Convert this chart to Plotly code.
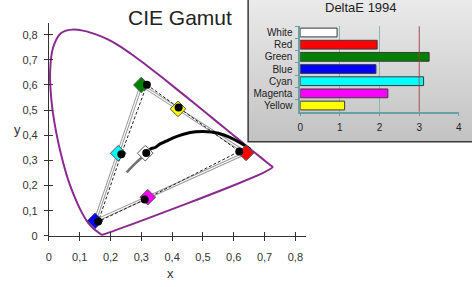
import plotly.graph_objects as go

# ---------------- data ----------------
# spectral locus (CIE 1931 chromaticity, x / y)
locus_x = [0.1741, 0.1733, 0.1714, 0.1689, 0.1644, 0.1566, 0.1440, 0.1355, 0.1241, 0.1096,
           0.0913, 0.0687, 0.0454, 0.0235, 0.0082, 0.0039, 0.0139, 0.0389, 0.0743, 0.1142,
           0.1547, 0.1929, 0.2296, 0.2658, 0.3016, 0.3373, 0.3731, 0.4087, 0.4441, 0.4788,
           0.5125, 0.5448, 0.5752, 0.6029, 0.6270, 0.6658, 0.6915, 0.7079, 0.7190, 0.7260]
locus_y = [0.0050, 0.0048, 0.0051, 0.0069, 0.0109, 0.0177, 0.0297, 0.0399, 0.0578, 0.0868,
           0.1327, 0.2007, 0.2950, 0.4127, 0.5384, 0.6548, 0.7502, 0.8060, 0.8200, 0.8150,
           0.8000, 0.7800, 0.7543, 0.7243, 0.6923, 0.6589, 0.6245, 0.5896, 0.5547, 0.5202,
           0.4866, 0.4544, 0.4242, 0.3965, 0.3725, 0.3340, 0.3083, 0.2920, 0.2809, 0.2740]

patch_names = ["White", "Red", "Green", "Blue", "Cyan", "Magenta", "Yellow"]
patch_colors = ["#ffffff", "#ff0000", "#008000", "#0000ff", "#00ffff", "#ff00ff", "#ffff00"]
target_x = [0.3127, 0.640, 0.300, 0.150, 0.225, 0.321, 0.419]
target_y = [0.3290, 0.330, 0.600, 0.060, 0.329, 0.154, 0.505]
measured_x = [0.316, 0.618, 0.318, 0.160, 0.235, 0.311, 0.421]
measured_y = [0.330, 0.336, 0.601, 0.057, 0.325, 0.145, 0.511]

# gamut outline order: Green -> Yellow -> Red -> Magenta -> Blue -> Cyan -> Green
outline_order = ["Green", "Yellow", "Red", "Magenta", "Blue", "Cyan", "Green"]

# Planckian locus (x, y) from ~25000 K down to 1000 K
planck_hot_x = [0.2526, 0.2565, 0.2637, 0.2807, 0.2951, 0.3135]
planck_hot_y = [0.2523, 0.2577, 0.2673, 0.2883, 0.3050, 0.3236]
planck_warm_x = [0.3135, 0.3324, 0.3451, 0.3611, 0.3805, 0.4053, 0.4369, 0.4770, 0.5267,
                 0.5496, 0.5857, 0.6251, 0.6528]
planck_warm_y = [0.3236, 0.3474, 0.3516, 0.3658, 0.3768, 0.3907, 0.4041, 0.4137, 0.4133,
                 0.4081, 0.3931, 0.3674, 0.3444]

delta_e = [0.93, 1.94, 3.25, 1.91, 3.11, 2.21, 1.12]
delta_threshold = 3

x_ticks = [0, 0.1, 0.2, 0.3, 0.4, 0.5, 0.6, 0.7, 0.8]
x_ticktext = ["0", "0,1", "0,2", "0,3", "0,4", "0,5", "0,6", "0,7", "0,8"]
y_ticks = [0, 0.1, 0.2, 0.3, 0.4, 0.5, 0.6, 0.7, 0.8]
y_ticktext = ["0", "0,1", "0,2", "0,3", "0,4", "0,5", "0,6", "0,7", "0,8"]
bar_ticks = [0, 1, 2, 3, 4]

# ---------------- figure ----------------
W, H = 475, 287
FONT = "Liberation Sans, Arial, sans-serif"
TEAL = "#6a9fa3"

def px_x(p):
    return p / W

def px_y(p):
    return 1 - p / H

fig = go.Figure()

# spectral locus (closed with line of purples)
fig.add_trace(go.Scatter(x=locus_x + [locus_x[0]], y=locus_y + [locus_y[0]], mode="lines",
                         line=dict(color="#8a2a8e", width=2), line_shape="spline",
                         hoverinfo="skip", showlegend=False))

idx = {n: i for i, n in enumerate(patch_names)}
ox_t = [target_x[idx[n]] for n in outline_order]
oy_t = [target_y[idx[n]] for n in outline_order]
ox_m = [measured_x[idx[n]] for n in outline_order]
oy_m = [measured_y[idx[n]] for n in outline_order]

# target outline: double grey line
fig.add_trace(go.Scatter(x=ox_t, y=oy_t, mode="lines", line=dict(color="#9a9a9a", width=3.2),
                         hoverinfo="skip", showlegend=False))
fig.add_trace(go.Scatter(x=ox_t, y=oy_t, mode="lines", line=dict(color="#ffffff", width=1.2),
                         hoverinfo="skip", showlegend=False))
# measured outline: black dashed
fig.add_trace(go.Scatter(x=ox_m, y=oy_m, mode="lines",
                         line=dict(color="#222222", width=1, dash="3px,2px"),
                         hoverinfo="skip", showlegend=False))

# Planckian locus
fig.add_trace(go.Scatter(x=planck_hot_x, y=planck_hot_y, mode="lines",
                         line=dict(color="#707070", width=2.5), line_shape="spline",
                         hoverinfo="skip", showlegend=False))
fig.add_trace(go.Scatter(x=planck_warm_x, y=planck_warm_y, mode="lines",
                         line=dict(color="#000000", width=3), line_shape="spline",
                         hoverinfo="skip", showlegend=False))

# target diamonds
fig.add_trace(go.Scatter(x=target_x, y=target_y, mode="markers",
                         marker=dict(symbol="diamond", size=12, color=patch_colors,
                                     line=dict(color="#555555", width=1)),
                         hoverinfo="skip", showlegend=False))
# measured dots
fig.add_trace(go.Scatter(x=measured_x, y=measured_y, mode="markers",
                         marker=dict(symbol="circle", size=8, color="#000000"),
                         hoverinfo="skip", showlegend=False))

# overlay axes for crossing ticks
fig.add_trace(go.Scatter(x=[None], y=[None], xaxis="x4", yaxis="y4", showlegend=False,
                         hoverinfo="skip"))

# inset panel background (gradient box)
fig.add_trace(go.Scatter(x=[0, 1, 1, 0, 0], y=[0, 0, 1.02, 1.02, 0], xaxis="x2", yaxis="y2",
                         mode="lines", fill="toself", line=dict(width=0, color="rgba(0,0,0,0)"),
                         fillgradient=dict(type="vertical",
                                           colorscale=[[0, "#c2c2c2"], [1, "#ebebeb"]]),
                         hoverinfo="skip", showlegend=False))
fig.add_trace(go.Scatter(x=[0, 0, 1.05], y=[1.05, 0, 0], xaxis="x2", yaxis="y2",
                         mode="lines", line=dict(width=1.5, color="#3a3a3a"),
                         hoverinfo="skip", showlegend=False))

# DeltaE bars
fig.add_trace(go.Bar(y=patch_names, x=delta_e, orientation="h", xaxis="x3", yaxis="y3",
                     marker=dict(color=patch_colors, line=dict(color="#3a3a3a", width=1)),
                     width=0.72, hoverinfo="skip", showlegend=False))

main_dom_x = [px_x(46.5), px_x(46.5 + 0.835 * 312)]
main_dom_y = [px_y(241), px_y(241 - 0.845 * 257)]
axis_font = dict(family=FONT, size=11, color="#333333")

fig.update_layout(
    width=W, height=H,
    margin=dict(l=0, r=0, t=0, b=0),
    paper_bgcolor="#ffffff", plot_bgcolor="rgba(0,0,0,0)",
    showlegend=False,
    xaxis=dict(domain=main_dom_x, range=[0, 0.835], anchor="y",
               tickmode="array", tickvals=x_ticks, ticktext=x_ticktext,
               ticks="outside", ticklen=4, tickcolor="#333333", tickwidth=1,
               ticklabelstandoff=7,
               showline=True, linecolor="#333333", linewidth=1,
               showgrid=False, zeroline=False, tickfont=axis_font),
    yaxis=dict(domain=main_dom_y, range=[0, 0.845], anchor="x",
               tickmode="array", tickvals=y_ticks, ticktext=y_ticktext,
               ticks="outside", ticklen=4, tickcolor="#333333", tickwidth=1,
               ticklabelstandoff=4,
               showline=True, linecolor="#333333", linewidth=1,
               showgrid=False, zeroline=False, tickfont=axis_font),
    xaxis4=dict(overlaying="x", range=[0, 0.835], anchor="y4",
                tickmode="array", tickvals=x_ticks, ticks="inside", ticklen=4,
                tickcolor="#333333", showticklabels=False, showline=False,
                showgrid=False, zeroline=False),
    yaxis4=dict(overlaying="y", range=[0, 0.845], anchor="x4",
                tickmode="array", tickvals=y_ticks, ticks="inside", ticklen=4,
                tickcolor="#333333", showticklabels=False, showline=False,
                showgrid=False, zeroline=False),
    xaxis2=dict(domain=[px_x(246), 1], range=[-0.01, 1], visible=False, fixedrange=True,
                anchor="y2"),
    yaxis2=dict(domain=[px_y(147), 1], range=[-0.015, 1], visible=False, fixedrange=True,
                anchor="x2"),
    xaxis3=dict(domain=[px_x(301), px_x(461.7)], range=[0, 4], anchor="y3",
                tickmode="array", tickvals=bar_ticks,
                ticks="outside", ticklen=3, tickcolor=TEAL, ticklabelstandoff=3,
                showline=True, linecolor=TEAL, linewidth=1.5,
                showgrid=True, gridcolor="#8cb8ba", gridwidth=1, zeroline=False,
                tickfont=dict(family=FONT, size=10, color="#222222")),
    yaxis3=dict(domain=[px_y(114), px_y(27)], anchor="x3",
                categoryorder="array", categoryarray=patch_names, autorange="reversed",
                ticks="outside", ticklen=3, tickcolor=TEAL, tickson="boundaries",
                ticklabelstandoff=4,
                showline=True, linecolor=TEAL, linewidth=1.5, showgrid=False,
                tickfont=dict(family=FONT, size=10, color="#222222")),
    shapes=[
        dict(type="rect", xref="x3 domain", yref="y3 domain", x0=0, x1=1, y0=0, y1=1,
             fillcolor="#ffffff", line=dict(width=0), layer="below"),
        dict(type="line", xref="x3", yref="y3 domain", x0=delta_threshold, x1=delta_threshold,
             y0=0, y1=1, line=dict(color="#cc3333", width=1), opacity=0.75, layer="above"),
    ],
    annotations=[
        dict(text="CIE Gamut", x=px_x(179), y=px_y(18), xref="paper", yref="paper",
             xanchor="center", yanchor="middle",
             showarrow=False, font=dict(family=FONT, size=21, color="#222222")),
        dict(text="DeltaE 1994", x=px_x(363), y=px_y(8), xref="paper", yref="paper",
             xanchor="center", yanchor="middle",
             showarrow=False, font=dict(family=FONT, size=13, color="#222222")),
        dict(text="x", x=px_x(170), y=px_y(279), xref="paper", yref="paper",
             xanchor="center", yanchor="middle",
             showarrow=False, font=dict(family=FONT, size=13, color="#333333")),
        dict(text="y", x=px_x(15), y=px_y(132), xref="paper", yref="paper",
             xanchor="center", yanchor="middle",
             showarrow=False, font=dict(family=FONT, size=13, color="#333333")),
    ],
)

fig.write_html("out.html")
